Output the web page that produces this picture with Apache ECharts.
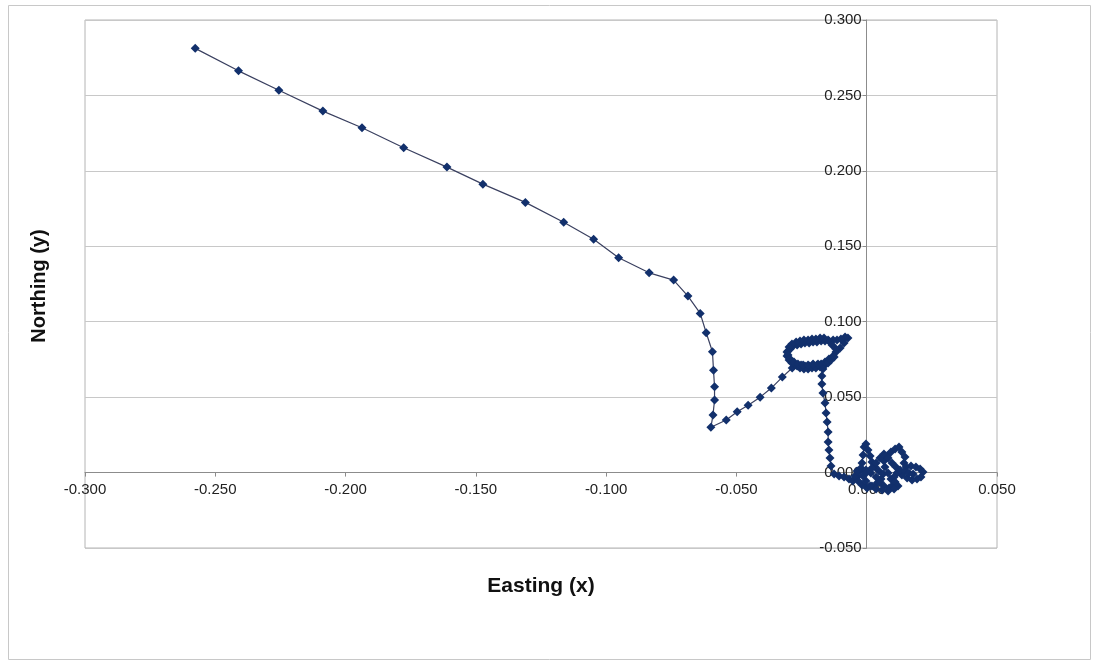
<!DOCTYPE html>
<html>
<head>
<meta charset="utf-8">
<script src="https://cdn.jsdelivr.net/npm/echarts@6/dist/echarts.min.js"></script>
<style>
  html, body { margin: 0; padding: 0; background: #fff; }
  #chart { width: 1097px; height: 664px; }
</style>
</head>
<body>
<div id="chart"></div>
<script>
// Track of the point, easting (x) and northing (y), in drawing order.
// Long drift from the north-west down to the first turn
const driftX = [
  -0.2577, -0.2411, -0.2256, -0.2087, -0.1937, -0.1777, -0.1611, -0.1473, -0.1310, -0.1163,
  -0.1048, -0.0952, -0.0835, -0.0741, -0.0686, -0.0639, -0.0616, -0.0592, -0.0588, -0.0584,
  -0.0584, -0.0590, -0.0598, -0.0539, -0.0497, -0.0455, -0.0409, -0.0366, -0.0324, -0.0286
];
const driftY = [
   0.2812,  0.2663,  0.2534,  0.2396,  0.2286,  0.2153,  0.2025,  0.1912,  0.1791,  0.1659,
   0.1546,  0.1424,  0.1324,  0.1276,  0.1170,  0.1055,  0.0927,  0.0801,  0.0679,  0.0569,
   0.0481,  0.0381,  0.0300,  0.0348,  0.0403,  0.0447,  0.0500,  0.0560,  0.0633,  0.0693
];
// Double loop near northing 0.08
const loopX = [
  -0.0267, -0.0252, -0.0237, -0.0221, -0.0206, -0.0191, -0.0175, -0.0160, -0.0145, -0.0129,
  -0.0118, -0.0102, -0.0087, -0.0072, -0.0083, -0.0099, -0.0114, -0.0129, -0.0145, -0.0160,
  -0.0175, -0.0191, -0.0206, -0.0221, -0.0237, -0.0252, -0.0267, -0.0283, -0.0294, -0.0306,
  -0.0306, -0.0298, -0.0287, -0.0271, -0.0256, -0.0241, -0.0225, -0.0210, -0.0195, -0.0179,
  -0.0164, -0.0148, -0.0137, -0.0125, -0.0118, -0.0133, -0.0148, -0.0164, -0.0179, -0.0195,
  -0.0210, -0.0225, -0.0241, -0.0256, -0.0271, -0.0287, -0.0298, -0.0302, -0.0302, -0.0294,
  -0.0279, -0.0264, -0.0244, -0.0225, -0.0206, -0.0187, -0.0172, -0.0168
];
const loopY = [
   0.0707,  0.0713,  0.0707,  0.0707,  0.0713,  0.0713,  0.0720,  0.0733,  0.0753,  0.0773,
   0.0799,  0.0826,  0.0859,  0.0892,  0.0899,  0.0886,  0.0879,  0.0879,  0.0872,  0.0872,
   0.0872,  0.0866,  0.0866,  0.0859,  0.0859,  0.0852,  0.0846,  0.0839,  0.0819,  0.0799,
   0.0773,  0.0746,  0.0727,  0.0713,  0.0693,  0.0687,  0.0687,  0.0693,  0.0693,  0.0700,
   0.0707,  0.0727,  0.0746,  0.0766,  0.0819,  0.0846,  0.0879,  0.0892,  0.0892,  0.0886,
   0.0886,  0.0879,  0.0879,  0.0872,  0.0866,  0.0852,  0.0833,  0.0806,  0.0780,  0.0753,
   0.0733,  0.0720,  0.0713,  0.0713,  0.0720,  0.0720,  0.0713,  0.0687
];
// Drop back towards the origin
const dropX = [
  -0.0172, -0.0172, -0.0168, -0.0160, -0.0156, -0.0152, -0.0148, -0.0148, -0.0145, -0.0141,
  -0.0137
];
const dropY = [
   0.0640,  0.0587,  0.0528,  0.0461,  0.0395,  0.0335,  0.0269,  0.0203,  0.0150,  0.0097,
   0.0044
];
// Wandering around the origin
const settleX = [
  -0.0125, -0.0106, -0.0087, -0.0068, -0.0053, -0.0037, -0.0026, -0.0018, -0.0014, -0.0010,
  -0.0003,  0.0005,  0.0013,  0.0020,  0.0032,  0.0047,  0.0063,  0.0055,  0.0040,  0.0020,
   0.0001, -0.0018, -0.0033, -0.0045, -0.0037, -0.0022, -0.0003,  0.0016,  0.0036,  0.0051,
   0.0066,  0.0086,  0.0101,  0.0093,  0.0082,  0.0070,  0.0066,  0.0078,  0.0093,  0.0109,
   0.0124,  0.0135,  0.0147,  0.0143,  0.0151,  0.0170,  0.0189,  0.0205,  0.0216,  0.0208,
   0.0193,  0.0174,  0.0155,  0.0135,  0.0116,  0.0105,  0.0109,  0.0120,  0.0105,  0.0082,
   0.0059,  0.0036,  0.0013, -0.0003, -0.0014,  0.0001,  0.0020,  0.0036,  0.0051,  0.0066,
   0.0082,  0.0097,  0.0112,  0.0128,  0.0147,  0.0162,  0.0178
];
const settleY = [
  -0.0009, -0.0023, -0.0029, -0.0042, -0.0056, -0.0029,  0.0011,  0.0064,  0.0117,  0.0170,
   0.0190,  0.0150,  0.0110,  0.0070,  0.0037,  0.0011, -0.0009, -0.0042, -0.0069, -0.0089,
  -0.0102, -0.0082, -0.0056, -0.0023,  0.0011,  0.0030,  0.0017, -0.0003, -0.0029, -0.0062,
  -0.0089, -0.0102, -0.0082, -0.0042, -0.0003,  0.0037,  0.0077,  0.0110,  0.0137,  0.0156,
   0.0170,  0.0137,  0.0103,  0.0064,  0.0037,  0.0044,  0.0037,  0.0024,  0.0004, -0.0029,
  -0.0042, -0.0049, -0.0036, -0.0016, -0.0003, -0.0029, -0.0062, -0.0089, -0.0109, -0.0122,
  -0.0115, -0.0109, -0.0089, -0.0056, -0.0023,  0.0004,  0.0030,  0.0064,  0.0097,  0.0123,
   0.0097,  0.0064,  0.0037,  0.0017,  0.0011, -0.0003, -0.0009
];

// Axis ranges and tick step
const xRange = [-0.300, 0.050];
const yRange = [-0.050, 0.300];
const tickStep = 0.050;
const xTitle = 'Easting (x)';
const yTitle = 'Northing (y)';

const eastX = driftX.concat(loopX, dropX, settleX);
const northY = driftY.concat(loopY, dropY, settleY);
const points = eastX.map((x, i) => [x, northY[i]]);

const FONT = "'Liberation Sans', Arial, sans-serif";
const labelFmt = v => v.toFixed(3);

// Plot box in pixels; axes cross at the origin, so each axis is shifted
// from the box edge to the zero of the other axis.
const box = { left: 85, right: 100, top: 20, bottom: 116, width: 1097 - 85 - 100, height: 664 - 20 - 116 };
const yAxisShift = -box.width * (0 - xRange[0]) / (xRange[1] - xRange[0]);
const xAxisShift = -box.height * (0 - yRange[0]) / (yRange[1] - yRange[0]);

const chart = echarts.init(document.getElementById('chart'), null, { renderer: 'canvas' });

chart.setOption({
  animation: false,
  backgroundColor: '#ffffff',
  grid: {
    left: box.left, right: box.right, top: box.top, bottom: box.bottom,
    show: true,
    borderColor: '#b4b4b4',
    borderWidth: 1
  },
  xAxis: {
    type: 'value',
    position: 'bottom',
    offset: xAxisShift,
    min: xRange[0], max: xRange[1], interval: tickStep,
    axisLine: { show: true, onZero: false, lineStyle: { color: '#8c8c8c', width: 1 } },
    axisTick: { show: true, length: 4, lineStyle: { color: '#8c8c8c' } },
    axisLabel: { formatter: labelFmt, color: '#222', fontSize: 15, fontFamily: FONT, margin: 10 },
    splitLine: { show: false }
  },
  yAxis: {
    type: 'value',
    position: 'left',
    offset: yAxisShift,
    min: yRange[0], max: yRange[1], interval: tickStep,
    axisLine: { show: true, onZero: false, lineStyle: { color: '#8c8c8c', width: 1 } },
    axisTick: { show: true, length: 4, lineStyle: { color: '#8c8c8c' } },
    axisLabel: { formatter: labelFmt, color: '#222', fontSize: 15, fontFamily: FONT, margin: 5 },
    splitLine: { show: true, lineStyle: { color: '#c8c8c8', width: 1 } }
  },
  graphic: [
    {
      type: 'rect', silent: true, z: -10,
      shape: { x: 8.5, y: 5.5, width: 1082, height: 654 },
      style: { fill: 'none', stroke: '#c8c8c8', lineWidth: 1 }
    },
    {
      type: 'text', silent: true,
      x: 541, y: 586,
      style: {
        text: xTitle, font: "bold 21px " + FONT, fill: '#111',
        align: 'center', verticalAlign: 'middle'
      }
    },
    {
      type: 'text', silent: true,
      x: 39, y: 286, rotation: Math.PI / 2,
      style: {
        text: yTitle, font: "bold 20px " + FONT, fill: '#111',
        align: 'center', verticalAlign: 'middle'
      }
    }
  ],
  series: [{
    type: 'line',
    data: points,
    showSymbol: true,
    symbol: 'diamond',
    symbolSize: 9,
    itemStyle: { color: '#12306c' },
    lineStyle: { color: '#3a4060', width: 1.2 },
    z: 5
  }]
});
</script>
</body>
</html>
